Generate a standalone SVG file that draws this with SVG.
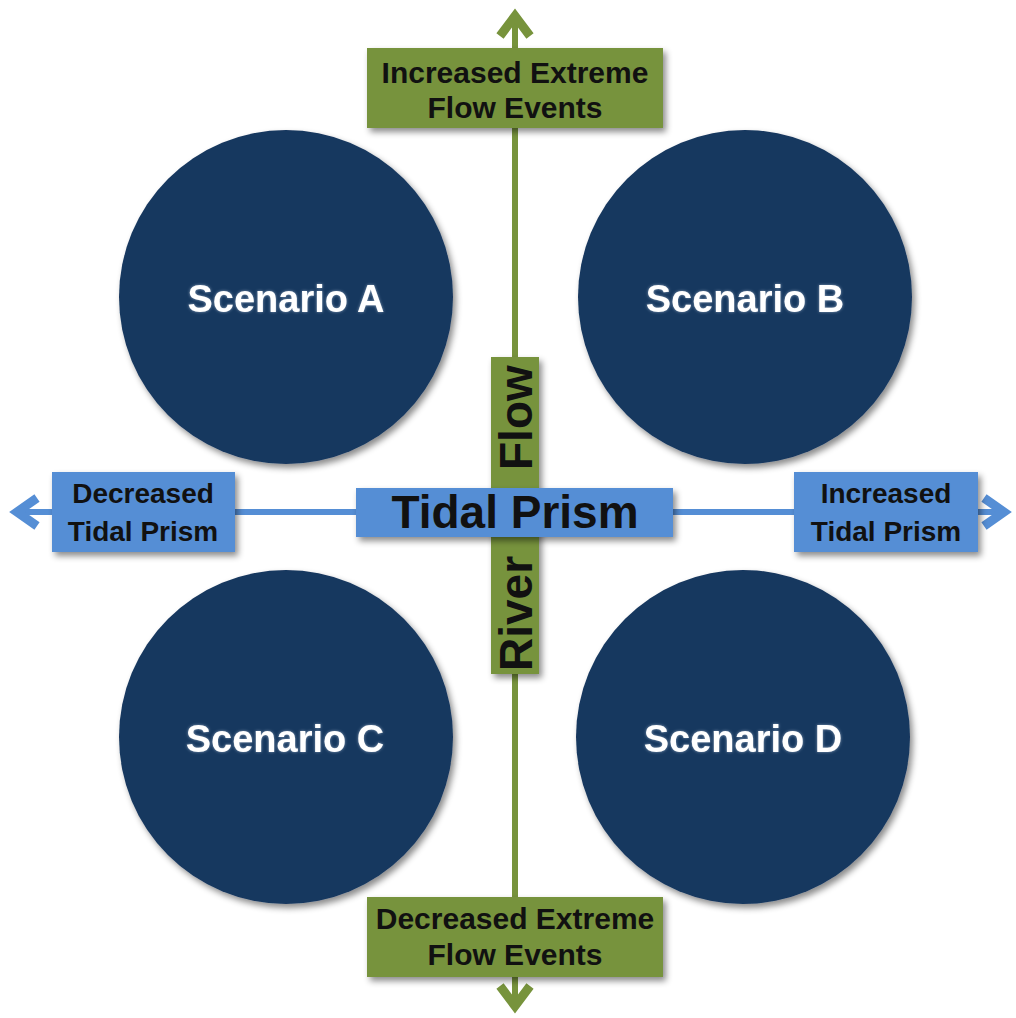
<svg xmlns="http://www.w3.org/2000/svg" width="1016" height="1018" viewBox="0 0 1016 1018">
<defs>
<filter id="sh" x="-20%" y="-20%" width="150%" height="150%">
<feDropShadow dx="3" dy="4" stdDeviation="3" flood-color="#000" flood-opacity="0.45"/>
</filter>
<filter id="glow" x="-10%" y="-30%" width="120%" height="160%">
<feGaussianBlur in="SourceAlpha" stdDeviation="1.5" result="b"/>
<feFlood flood-color="#c9d6e8" flood-opacity="0.6"/>
<feComposite in2="b" operator="in" result="g"/>
<feMerge><feMergeNode in="g"/><feMergeNode in="SourceGraphic"/></feMerge>
</filter>
</defs>
<style>
.circ{fill:#17375E;filter:url(#sh)}
.ctext{font-family:"Liberation Sans",Arial,sans-serif;font-weight:bold;font-size:38px;fill:#fff;text-anchor:middle;filter:url(#glow)}
.gbox{fill:#77933C;filter:url(#sh)}
.bbox{fill:#558ED5;filter:url(#sh)}
.btext{font-family:"Liberation Sans",Arial,sans-serif;font-weight:bold;fill:#111;text-anchor:middle}
.gline{stroke:#77933C;stroke-width:6;fill:none}
.bline{stroke:#558ED5;stroke-width:6;fill:none}
.ghead{stroke:#77933C;stroke-width:9;fill:none;stroke-linejoin:miter;stroke-linecap:butt}
.bhead{stroke:#558ED5;stroke-width:9;fill:none;stroke-linejoin:miter;stroke-linecap:butt}
</style>
<rect width="1016" height="1018" fill="#fff"/>
<g id="scenarioA"><circle class="circ" cx="286" cy="297" r="167"/><text class="ctext" x="286" y="312">Scenario A</text></g>
<g id="scenarioB"><circle class="circ" cx="745" cy="297" r="167"/><text class="ctext" x="745" y="312">Scenario B</text></g>
<g id="scenarioC"><circle class="circ" cx="286" cy="737" r="167"/><text class="ctext" x="285" y="752">Scenario C</text></g>
<g id="scenarioD"><circle class="circ" cx="743" cy="737" r="167"/><text class="ctext" x="743" y="752">Scenario D</text></g>
<g id="connectors">
<line class="gline" x1="515" y1="16" x2="515" y2="1004"/>
<polyline class="ghead" points="500,36 515,16 530,36"/>
<polyline class="ghead" points="500,986 515,1006 530,986"/>
<line class="bline" x1="16" y1="512" x2="1002" y2="512"/>
<polyline class="bhead" points="37,498 17,512 37,526"/>
<polyline class="bhead" points="984,498 1004,512 984,526"/>
</g>
<g id="riverFlow">
<rect class="gbox" x="491" y="357" width="48" height="317"/>
<text class="btext" font-size="46" transform="translate(532,671) rotate(-90)" style="text-anchor:start">River</text>
<text class="btext" font-size="46" transform="translate(532,470) rotate(-90)" style="text-anchor:start">Flow</text>
</g>
<g id="tidalPrism">
<rect class="bbox" x="356" y="488" width="317" height="49"/>
<text class="btext" font-size="46" x="515" y="528">Tidal Prism</text>
</g>
<g id="increasedFlow">
<rect class="gbox" x="367" y="48" width="296" height="80"/>
<text class="btext" font-size="30" x="515" y="83">Increased Extreme</text>
<text class="btext" font-size="30" x="515" y="118">Flow Events</text>
</g>
<g id="decreasedFlow">
<rect class="gbox" x="367" y="897" width="296" height="80"/>
<text class="btext" font-size="30" x="515" y="929">Decreased Extreme</text>
<text class="btext" font-size="30" x="515" y="965">Flow Events</text>
</g>
<g id="decreasedTidal">
<rect class="bbox" x="52" y="472" width="183" height="80"/>
<text class="btext" font-size="28" x="143" y="503">Decreased</text>
<text class="btext" font-size="28" x="143" y="541">Tidal Prism</text>
</g>
<g id="increasedTidal">
<rect class="bbox" x="794" y="472" width="184" height="80"/>
<text class="btext" font-size="28" x="886" y="503">Increased</text>
<text class="btext" font-size="28" x="886" y="541">Tidal Prism</text>
</g>
</svg>
